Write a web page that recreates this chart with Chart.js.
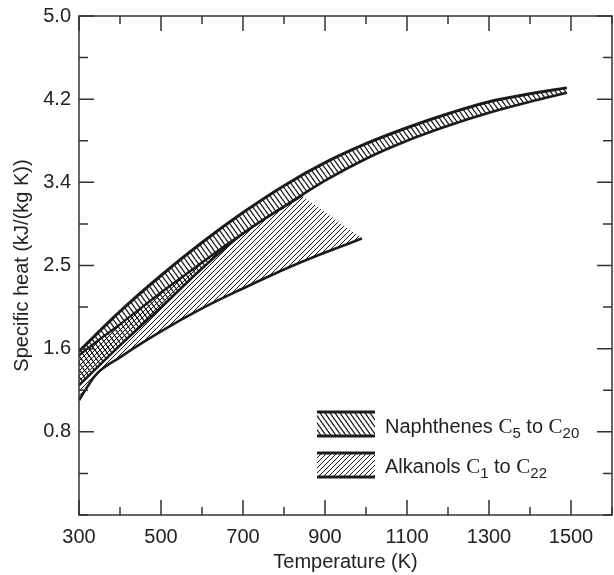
<!DOCTYPE html>
<html>
<head>
<meta charset="utf-8">
<script src="https://cdn.jsdelivr.net/npm/chart.js@4.4.1/dist/chart.umd.min.js"></script>
<style>
  html, body { margin: 0; padding: 0; background: #fff; }
</style>
</head>
<body>
<canvas id="myChart" width="614" height="575"></canvas>
<script>
// Naphthenes C5-C20 band (upper and lower bounds)
var naphTemps = [300, 400, 500, 600, 700, 800, 900, 1000, 1100, 1200, 1300, 1400, 1490];
var naphUpper = [1.64, 2.04, 2.40, 2.73, 3.03, 3.30, 3.53, 3.72, 3.88, 4.02, 4.14, 4.22, 4.28];
var naphLower = [1.30, 1.70, 2.08, 2.47, 2.82, 3.09, 3.35, 3.57, 3.75, 3.90, 4.03, 4.14, 4.23];

// Alkanols C1-C22 band; upper bound runs into the naphthene band, then the hatch stops
var alkUpperTemps = [300, 350, 400, 450, 500, 550, 600, 650, 700, 750, 800, 844, 990];
var alkUpper = [1.60, 1.76, 1.91, 2.07, 2.23, 2.38, 2.53, 2.68, 2.82, 2.96, 3.09, 3.20, 2.77];
var alkLowerTemps = [300, 340, 400, 500, 600, 700, 800, 900, 990];
var alkLower = [1.15, 1.40, 1.58, 1.84, 2.07, 2.27, 2.46, 2.63, 2.77];

var yTickLabels = ['0.8', '1.6', '2.5', '3.4', '4.2', '5.0'];
var legendNames = ['Naphthenes', 'Alkanols'];
var legendCarbons = [['5', '20'], ['1', '22']];

var ink = '#1b1b1b';
var textInk = '#222';
var sans = "'Liberation Sans', Arial, Helvetica, sans-serif";
var serif = "'Liberation Serif', 'Times New Roman', serif";

var ctx = document.getElementById('myChart').getContext('2d');

function hatch(dir, w, h, lw) {
    var c = document.createElement('canvas');
    c.width = w; c.height = h;
    var g = c.getContext('2d');
    g.strokeStyle = '#151515';
    g.lineWidth = lw;
    g.beginPath();
    for (var k = -1; k <= 1; k++) {
        if (dir === '\\') { g.moveTo(k * w, 0); g.lineTo(k * w + w, h); }
        else { g.moveTo(k * w, h); g.lineTo(k * w + w, 0); }
    }
    g.stroke();
    return ctx.createPattern(c, 'repeat');
}
var naphHatch = hatch('\\', 5, 7, 1.3);
var alkHatch = hatch('/', 5, 5, 1);

function pts(xs, ys) {
    return xs.map(function (x, i) { return { x: x, y: ys[i] }; });
}

// inward tick marks on all four sides plus the frame
var frameTicks = {
    id: 'frameTicks',
    afterDraw: function (chart) {
        var c = chart.ctx, a = chart.chartArea, x = chart.scales.x, y = chart.scales.y;
        c.save();
        c.strokeStyle = '#333';
        c.lineWidth = 1.5;
        c.strokeRect(a.left, a.top, a.right - a.left, a.bottom - a.top);
        c.beginPath();
        x.ticks.forEach(function (t) {
            var px = x.getPixelForValue(t.value);
            var len = t.label ? 15 : 8;
            c.moveTo(px, a.bottom); c.lineTo(px, a.bottom - len);
            c.moveTo(px, a.top); c.lineTo(px, a.top + len);
        });
        y.ticks.forEach(function (t) {
            var py = y.getPixelForValue(t.value);
            var len = t.label ? 15 : 9;
            c.moveTo(a.left, py); c.lineTo(a.left + len, py);
            c.moveTo(a.right, py); c.lineTo(a.right - len, py);
        });
        c.stroke();
        c.restore();
    }
};

// legend with hatched swatches and subscripted carbon numbers
var hatchLegend = {
    id: 'hatchLegend',
    afterDraw: function (chart) {
        var c = chart.ctx;
        var fills = [naphHatch, alkHatch];
        var x0 = 317, x1 = 375;
        var tops = [412, 453], bottoms = [436, 477], baselines = [432.5, 473];
        c.save();
        for (var i = 0; i < 2; i++) {
            c.fillStyle = fills[i];
            c.fillRect(x0, tops[i], x1 - x0, bottoms[i] - tops[i]);
            c.strokeStyle = ink;
            c.lineWidth = 2.8;
            c.beginPath();
            c.moveTo(x0, tops[i]); c.lineTo(x1, tops[i]);
            c.moveTo(x0, bottoms[i]); c.lineTo(x1, bottoms[i]);
            c.stroke();

            var tx = 385, b = baselines[i];
            c.fillStyle = textInk;
            c.textBaseline = 'alphabetic';
            c.textAlign = 'left';
            var parts = [
                [legendNames[i] + ' ', sans, 20, 0],
                ['C', serif, 21, 0],
                [legendCarbons[i][0], sans, 15, 5],
                [' to ', sans, 20, 0],
                ['C', serif, 21, 0],
                [legendCarbons[i][1], sans, 15, 5]
            ];
            parts.forEach(function (p) {
                c.font = p[2] + 'px ' + p[1];
                c.fillText(p[0], tx, b + p[3]);
                tx += c.measureText(p[0]).width;
            });
        }
        c.restore();
    }
};

var myChart = new Chart(ctx, {
    type: 'line',
    data: {
        datasets: [
            {
                label: 'Naphthenes C5 to C20',
                data: pts(naphTemps, naphUpper),
                borderColor: ink,
                borderWidth: 3,
                backgroundColor: naphHatch,
                fill: '+1',
                cubicInterpolationMode: 'monotone'
            },
            {
                label: 'Naphthenes lower',
                data: pts(naphTemps, naphLower),
                borderColor: ink,
                borderWidth: 2.6,
                fill: false,
                cubicInterpolationMode: 'monotone'
            },
            {
                label: 'Alkanols C1 to C22',
                data: pts(alkUpperTemps, alkUpper),
                borderColor: ink,
                borderWidth: 2.4,
                backgroundColor: alkHatch,
                fill: '+1',
                tension: 0,
                segment: {
                    borderColor: function (s) { return s.p0.parsed.x >= 844 ? 'rgba(0,0,0,0)' : ink; }
                }
            },
            {
                label: 'Alkanols lower',
                data: pts(alkLowerTemps, alkLower),
                borderColor: ink,
                borderWidth: 2.6,
                fill: false,
                cubicInterpolationMode: 'monotone'
            }
        ]
    },
    options: {
        responsive: false,
        animation: false,
        elements: { point: { radius: 0 } },
        layout: { padding: { top: 16, right: 2, left: 0, bottom: 0 } },
        plugins: {
            legend: { display: false },
            tooltip: { enabled: false }
        },
        scales: {
            x: {
                type: 'linear',
                min: 300,
                max: 1600,
                afterFit: function (s) { s.height = 60; s.paddingRight = 0; s.paddingLeft = 0; },
                grid: { display: false, drawTicks: false },
                border: { display: false },
                ticks: {
                    stepSize: 100,
                    autoSkip: false,
                    maxRotation: 0,
                    padding: 10,
                    color: textInk,
                    font: { family: sans, size: 20 },
                    callback: function (v) { return (v % 200 === 100 && v <= 1500) ? String(v) : ''; }
                },
                title: {
                    display: true,
                    text: 'Temperature (K)',
                    color: textInk,
                    font: { family: sans, size: 20 },
                    padding: { top: 0, bottom: 1 }
                }
            },
            y: {
                min: 0,
                max: 5,
                afterFit: function (s) { s.width = 79; s.paddingTop = 0; s.paddingBottom = 0; },
                grid: { display: false, drawTicks: false },
                border: { display: false },
                ticks: {
                    stepSize: 5 / 12,
                    autoSkip: false,
                    padding: 8,
                    color: textInk,
                    font: { family: sans, size: 20 },
                    callback: function (v, i) { return (i > 0 && i % 2 === 0) ? yTickLabels[i / 2 - 1] : ''; }
                },
                title: {
                    display: true,
                    text: 'Specific heat (kJ/(kg K))',
                    color: textInk,
                    font: { family: sans, size: 20 },
                    padding: { top: 10, bottom: 0 }
                }
            }
        }
    },
    plugins: [frameTicks, hatchLegend]
});
</script>
</body>
</html>
